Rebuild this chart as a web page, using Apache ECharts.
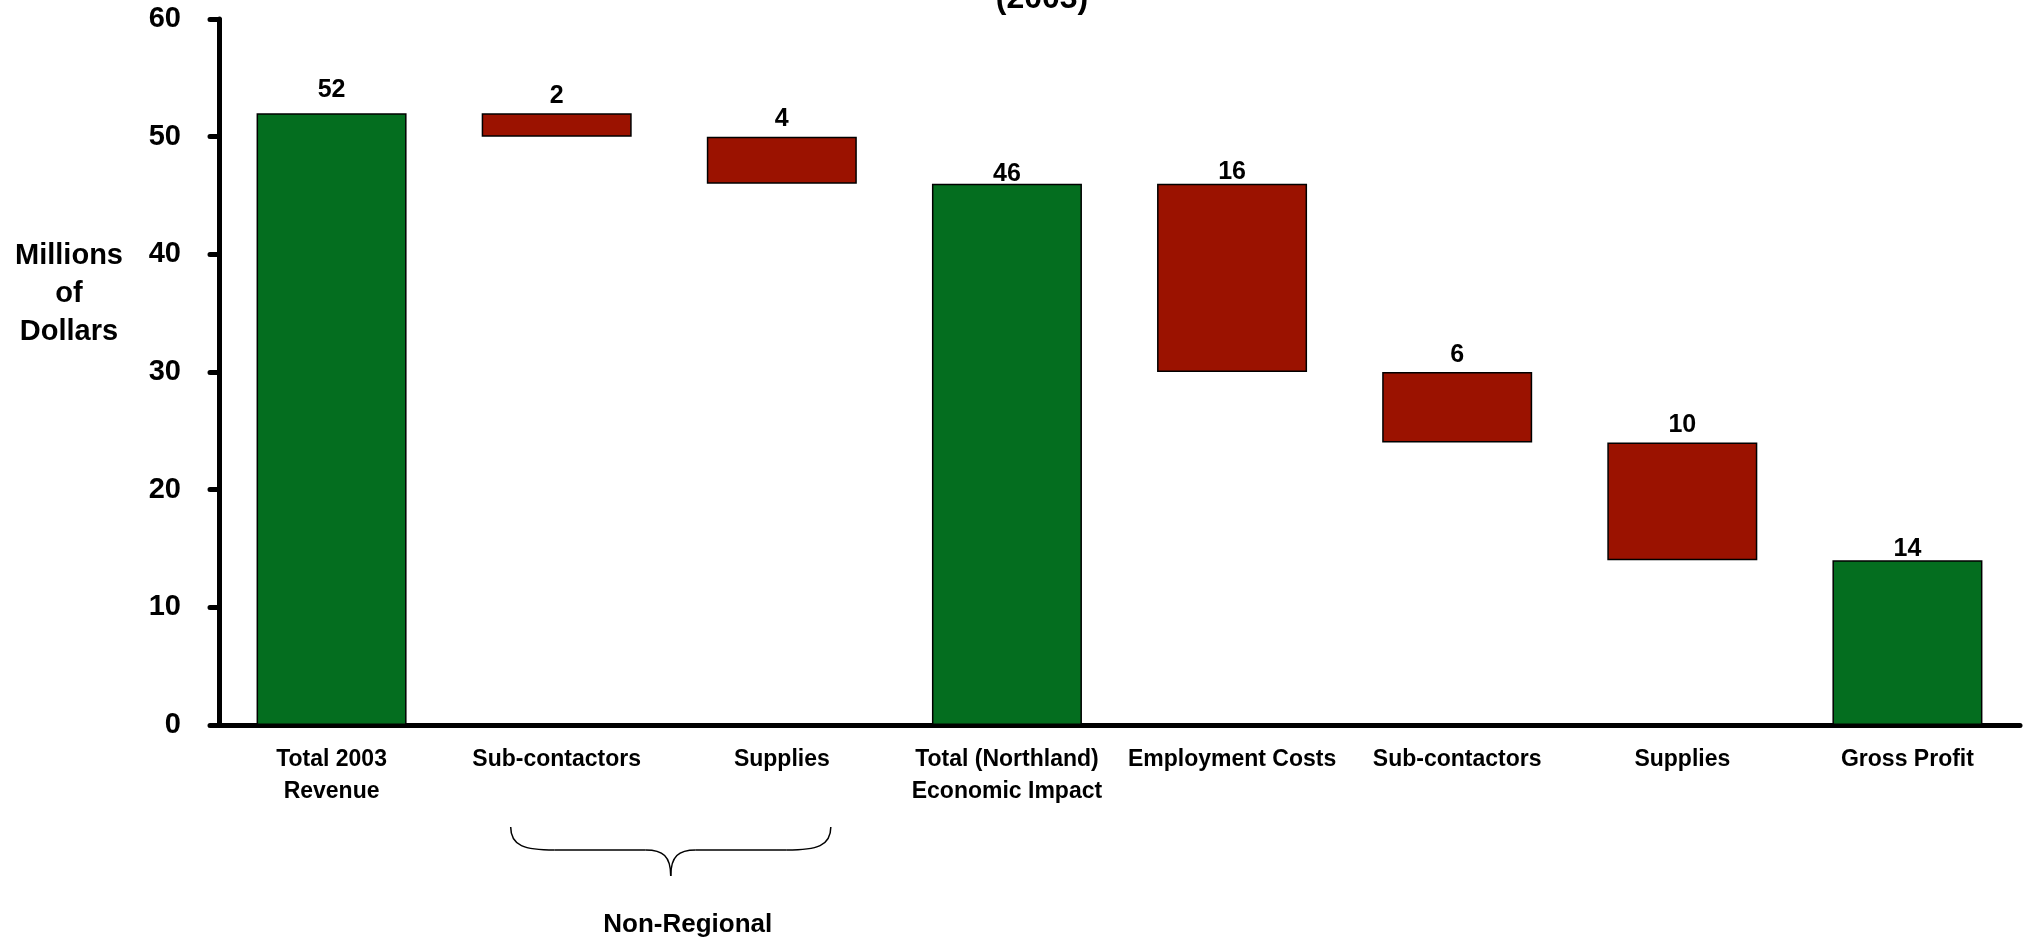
<!DOCTYPE html>
<html>
<head>
<meta charset="utf-8">
<script src="https://cdn.jsdelivr.net/npm/echarts@6/dist/echarts.min.js"></script>
<style>
  html, body { margin: 0; padding: 0; background: #fff; }
  #chart { width: 2028px; height: 940px; }
</style>
</head>
<body>
<div id="chart"></div>
<script>
// Bridge from 2003 revenue to gross profit (millions of dollars)
const categories = [
  'Total 2003\nRevenue',
  'Sub-contactors',
  'Supplies',
  'Total (Northland)\nEconomic Impact',
  'Employment Costs',
  'Sub-contactors',
  'Supplies',
  'Gross Profit'
];
const amounts = [52, 2, 4, 46, 16, 6, 10, 14];
const kinds = ['total', 'decrease', 'decrease', 'total', 'decrease', 'decrease', 'decrease', 'total'];
const yTicks = { min: 0, max: 60, step: 10 };
const bracketGroup = { from: 1, to: 2, label: 'Non-Regional' };
const chartTitle = '(2003)';

// styling
const GREEN = '#046E1F';
const RED = '#9B1200';
const FONT = '"Liberation Sans", Arial, sans-serif';
const labelGap = [11, 5, 5, -3, -1, 4, 5, -1];

// waterfall: invisible base + visible step
const bases = [];
let level = 0;
amounts.forEach((v, i) => {
  if (kinds[i] === 'total') { bases.push(0); level = v; }
  else { level -= v; bases.push(level); }
});

const chart = echarts.init(document.getElementById('chart'), null, { renderer: 'canvas' });

const option = {
  animation: false,
  backgroundColor: '#ffffff',
  grid: { left: 219, right: 8, top: 19, bottom: 215, containLabel: false },
  xAxis: {
    type: 'category',
    data: categories,
    axisLine: { show: true, lineStyle: { color: '#000', width: 5 } },
    axisTick: { show: false },
    axisLabel: {
      color: '#000', fontFamily: FONT, fontWeight: 'bold', fontSize: 23,
      lineHeight: 32, margin: 19, interval: 0
    },
    splitLine: { show: false }
  },
  yAxis: {
    type: 'value',
    min: yTicks.min, max: yTicks.max, interval: yTicks.step,
    axisLine: { show: true, lineStyle: { color: '#000', width: 5 } },
    axisTick: { show: true, length: 9, lineStyle: { color: '#000', width: 5, cap: 'round' } },
    axisLabel: { color: '#000', fontFamily: FONT, fontWeight: 'bold', fontSize: 29, margin: 38 },
    splitLine: { show: false }
  },
  series: [
    {
      type: 'bar', stack: 'w', silent: true,
      data: bases,
      itemStyle: { color: 'transparent', borderColor: 'transparent' },
      barWidth: 150
    },
    {
      type: 'bar', stack: 'w',
      data: amounts.map((v, i) => ({
        value: v,
        itemStyle: { color: kinds[i] === 'total' ? GREEN : RED },
        label: { distance: labelGap[i] }
      })),
      itemStyle: { borderColor: '#000', borderWidth: 1.5 },
      barWidth: 150,
      label: {
        show: true, position: 'top', color: '#000',
        fontFamily: FONT, fontWeight: 'bold', fontSize: 25,
        formatter: p => String(p.value)
      }
    }
  ]
};
chart.setOption(option);

function drawAnnotations() {
  const x0 = chart.convertToPixel({ xAxisIndex: 0 }, bracketGroup.from);
  const x1 = chart.convertToPixel({ xAxisIndex: 0 }, bracketGroup.to);
  const yBase = chart.convertToPixel({ yAxisIndex: 0 }, 0);
  const L = x0 - 46, R = x1 + 49, M = (L + R) / 2;
  const yTop = yBase + 102, yMid = yBase + 125, yTip = yBase + 151;
  const stroke = { fill: null, stroke: '#000', lineWidth: 1.5 };

  // curly brace built from curves and straight runs
  const brace = [
    { type: 'bezierCurve', shape: { x1: L, y1: yTop, cpx1: L, cpy1: yMid - 4, cpx2: L + 14, cpy2: yMid, x2: L + 44, y2: yMid } },
    { type: 'line', shape: { x1: L + 44, y1: yMid, x2: M - 25, y2: yMid } },
    { type: 'bezierCurve', shape: { x1: M - 25, y1: yMid, cpx1: M - 8, cpy1: yMid, cpx2: M, cpy2: yMid + 6, x2: M, y2: yTip } },
    { type: 'bezierCurve', shape: { x1: M, y1: yTip, cpx1: M, cpy1: yMid + 6, cpx2: M + 8, cpy2: yMid, x2: M + 25, y2: yMid } },
    { type: 'line', shape: { x1: M + 25, y1: yMid, x2: R - 44, y2: yMid } },
    { type: 'bezierCurve', shape: { x1: R - 44, y1: yMid, cpx1: R - 14, cpy1: yMid, cpx2: R, cpy2: yMid - 4, x2: R, y2: yTop } }
  ].map(el => Object.assign(el, { silent: true, style: stroke }));

  chart.setOption({
    graphic: brace.concat([
      {
        type: 'text', silent: true, x: M + 17, y: yBase + 213,
        style: {
          text: bracketGroup.label, font: 'bold 26px ' + FONT, fill: '#000',
          align: 'center', verticalAlign: 'bottom'
        }
      },
      {
        type: 'text', silent: true, x: 69, y: 294,
        style: {
          text: 'Millions\nof\nDollars', font: 'bold 29px ' + FONT, fill: '#000',
          align: 'center', verticalAlign: 'middle', lineHeight: 38
        }
      },
      {
        type: 'text', silent: true, x: 1042, y: 15,
        style: {
          text: chartTitle, font: 'bold 32px ' + FONT, fill: '#000',
          align: 'center', verticalAlign: 'bottom'
        }
      }
    ])
  });
}
drawAnnotations();
</script>
</body>
</html>
